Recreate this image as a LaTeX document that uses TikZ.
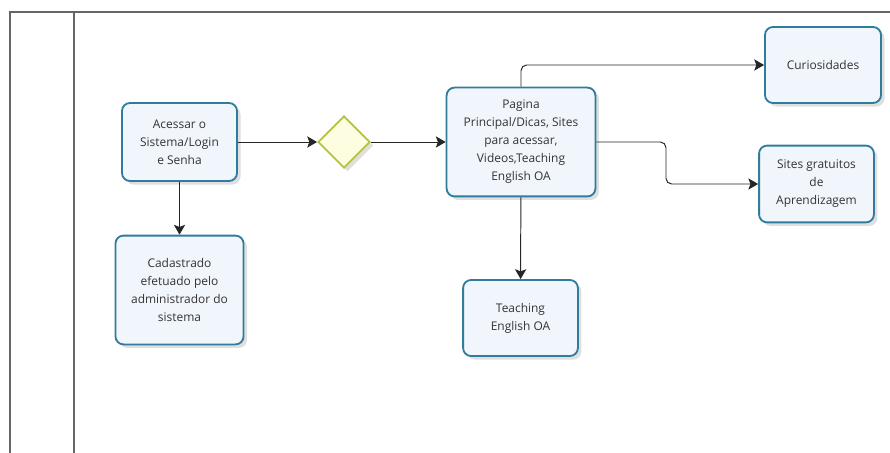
\documentclass[tikz,border=0pt]{standalone}
\usepackage{fontspec}
\setmainfont{Open Sans}
\usetikzlibrary{shapes.geometric,shadows,arrows.meta}
\definecolor{tarefa}{HTML}{2F7C9C}
\definecolor{tarefafundo}{HTML}{F1F5FC}
\definecolor{portao}{HTML}{B5C23A}
\definecolor{portaofundo}{HTML}{FDFDE2}
\begin{document}
\begin{tikzpicture}[x=0.025cm, y=-0.025cm]
    \tikzset{>={Stealth[length=7pt, width=8pt, inset=1.5pt]}}
    \tikzset{tarefa/.style={draw=tarefa, fill=tarefafundo, line width=1.3pt, rounded corners=0.2cm,
        align=center, font=\fontsize{8.5}{12.8}\selectfont, text=black!80,
        drop shadow={opacity=0.25, shadow xshift=2.5pt, shadow yshift=-2.5pt}}}
    \tikzset{fluxo/.style={->, draw=black!85, line width=0.7pt, rounded corners=4pt}}
    \useasboundingbox (0,0) rectangle (890,453);
    % raia
    \draw[black!60, line width=0.8pt] (10,453) |- (890,12);
    \draw[black!60, line width=0.8pt] (74,12) -- (74,453);
    % tarefas
    \node[tarefa, minimum width=2.875cm, minimum height=1.95cm] (acessar) at (179.5,142) {Acessar o\\Sistema/Login\\e Senha};
    \node[tarefa, minimum width=3.2cm, minimum height=2.72cm] (cadastro) at (179.5,290) {Cadastrado\\efetuado pelo\\administrador do\\sistema};
    \node[diamond, draw=portao, fill=portaofundo, line width=1.3pt, minimum size=1.3cm,
        drop shadow={opacity=0.25, shadow xshift=2.5pt, shadow yshift=-2.5pt}] (portao) at (344,142) {};
    \node[tarefa, minimum width=3.72cm, minimum height=2.72cm] (pagina) at (521,142) {Pagina\\Principal/Dicas, Sites\\para acessar,\\Videos,Teaching\\English OA};
    \node[tarefa, minimum width=2.9cm, minimum height=1.9cm] (curios) at (823,65) {Curiosidades};
    \node[tarefa, minimum width=2.87cm, minimum height=1.92cm] (sites) at (816.5,184) {Sites gratuitos\\de\\Aprendizagem};
    \node[tarefa, minimum width=2.87cm, minimum height=1.9cm] (teaching) at (520.5,318) {Teaching\\English OA};
    \coordinate (desvio) at (666,142);
    % conectores
    \draw[fluxo] (acessar) -- (cadastro);
    \draw[fluxo] (acessar) -- (portao);
    \draw[fluxo] (portao) -- (pagina);
    \draw[fluxo] (pagina.north) |- (curios.west);
    \draw[fluxo] (pagina.east) -- (desvio) |- (sites.west);
    \draw[fluxo] (pagina) -- (teaching);
\end{tikzpicture}
\end{document}
